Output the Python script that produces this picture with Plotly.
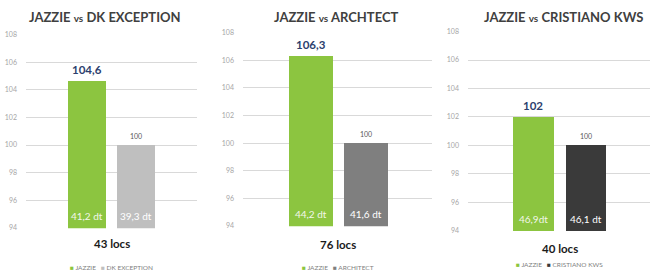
import plotly.graph_objects as go

W, H = 653, 276

titles = ["JAZZIE vs DK EXCEPTION", "JAZZIE vs ARCHTECT", "JAZZIE vs CRISTIANO KWS"]
categories = [["JAZZIE", "DK EXCEPTION"], ["JAZZIE", "ARCHITECT"], ["JAZZIE", "CRISTIANO KWS"]]
values = [[104.6, 100], [106.3, 100], [102, 100]]
top_labels = [["104,6", "100"], ["106,3", "100"], ["102", "100"]]
inner_labels = [["41,2 dt", "39,3 dt"], ["44,2 dt", "41,6 dt"], ["46,9dt", "46,1 dt"]]
locs = ["43 locs", "76 locs", "40 locs"]
tick_vals = [94, 96, 98, 100, 102, 104, 106, 108]

GREEN = "#8cc540"
other_colors = ["#bfbfbf", "#7f7f7f", "#3a3a3a"]

# layout geometry (pixels)
x_dom_px = [(26, 197), (243, 432), (468, 650)]
y_dom_px = [(230, 31), (228, 29), (233, 28)]
x_ranges = [(-1.245, 2.245), (-1.236, 2.2), (-1.248, 2.22)]
bar_w = [0.78, 0.8, 0.78]
title_x = [105, 336, 563]
locs_y = [246, 247, 251]
legend_y = [270, 270, 267]

fig = go.Figure()
annotations = []
for i in range(3):
    ax = "" if i == 0 else str(i + 1)
    fig.add_trace(go.Bar(
        x=categories[i], y=values[i],
        marker=dict(color=[GREEN, other_colors[i]], line=dict(width=0)),
        width=bar_w[i], xaxis="x" + ax, yaxis="y" + ax, showlegend=False,
        hoverinfo="skip",
    ))
    fig.update_layout(**{
        "xaxis" + ax: dict(domain=[x_dom_px[i][0] / W, x_dom_px[i][1] / W],
                           range=list(x_ranges[i]), showticklabels=False,
                           showgrid=False, zeroline=False, showline=False,
                           anchor="y" + ax, fixedrange=True),
        "yaxis" + ax: dict(domain=[1 - y_dom_px[i][0] / H, 1 - y_dom_px[i][1] / H],
                           range=[93.98, 108.02], tickvals=tick_vals,
                           tickfont=dict(size=7, color="#a6a6a6", family="Lato"),
                           showgrid=True, gridcolor="#d9d9d9", gridwidth=1,
                           zeroline=False, showline=False, ticks="",
                           ticklabelstandoff=8, anchor="x" + ax, fixedrange=True),
    })
    xr, yr = "x" + ax, "y" + ax
    # value labels above bars
    annotations.append(dict(x=categories[i][0], y=values[i][0], xref=xr, yref=yr,
                            text="<b>" + top_labels[i][0] + "</b>", showarrow=False,
                            yanchor="bottom", yshift=3,
                            font=dict(size=11.5, color="#2d3f6e", family="Lato")))
    annotations.append(dict(x=categories[i][1], y=values[i][1], xref=xr, yref=yr,
                            text=top_labels[i][1], showarrow=False,
                            yanchor="bottom", yshift=3,
                            font=dict(size=7, color="#595959", family="Lato")))
    # inner labels
    for j in range(2):
        annotations.append(dict(x=categories[i][j], y=94, xref=xr, yref=yr,
                                text=inner_labels[i][j], showarrow=False,
                                yanchor="bottom", yshift=4,
                                font=dict(size=10, color="#f2f7ea" if j == 0 else "#ffffff",
                                          family="Lato")))
    # locs label
    annotations.append(dict(x=0.5, y=1 - locs_y[i] / H, xref=xr, yref="paper",
                            text="<b>" + locs[i] + "</b>", showarrow=False,
                            yanchor="middle",
                            font=dict(size=11.5, color="#1a1a1a", family="Lato")))
    # legend
    leg = ('<span style="color:%s">■</span> %s   <span style="color:%s">■</span> %s'
           % (GREEN, categories[i][0], other_colors[i], categories[i][1]))
    annotations.append(dict(x=0.5, y=1 - legend_y[i] / H, xref=xr, yref="paper",
                            text=leg, showarrow=False, yanchor="middle",
                            font=dict(size=6.5, color="#808080", family="Lato")))
    # title
    a, b = titles[i].split(" vs ")
    annotations.append(dict(x=title_x[i] / W, y=1 - 13 / H, xref="paper", yref="paper",
                            text="<b>%s <span style='font-size:10px'>vs</span> %s</b>" % (a, b),
                            showarrow=False, yanchor="middle", xanchor="center",
                            font=dict(size=13, color="#404040", family="Lato")))

fig.update_layout(width=W, height=H, margin=dict(l=0, r=0, t=0, b=0),
                  paper_bgcolor="white", plot_bgcolor="white",
                  annotations=annotations, bargap=0)
fig.write_html("out.html", config={"displayModeBar": False},
               post_script="document.body.style.margin='0';document.body.style.padding='0';")
